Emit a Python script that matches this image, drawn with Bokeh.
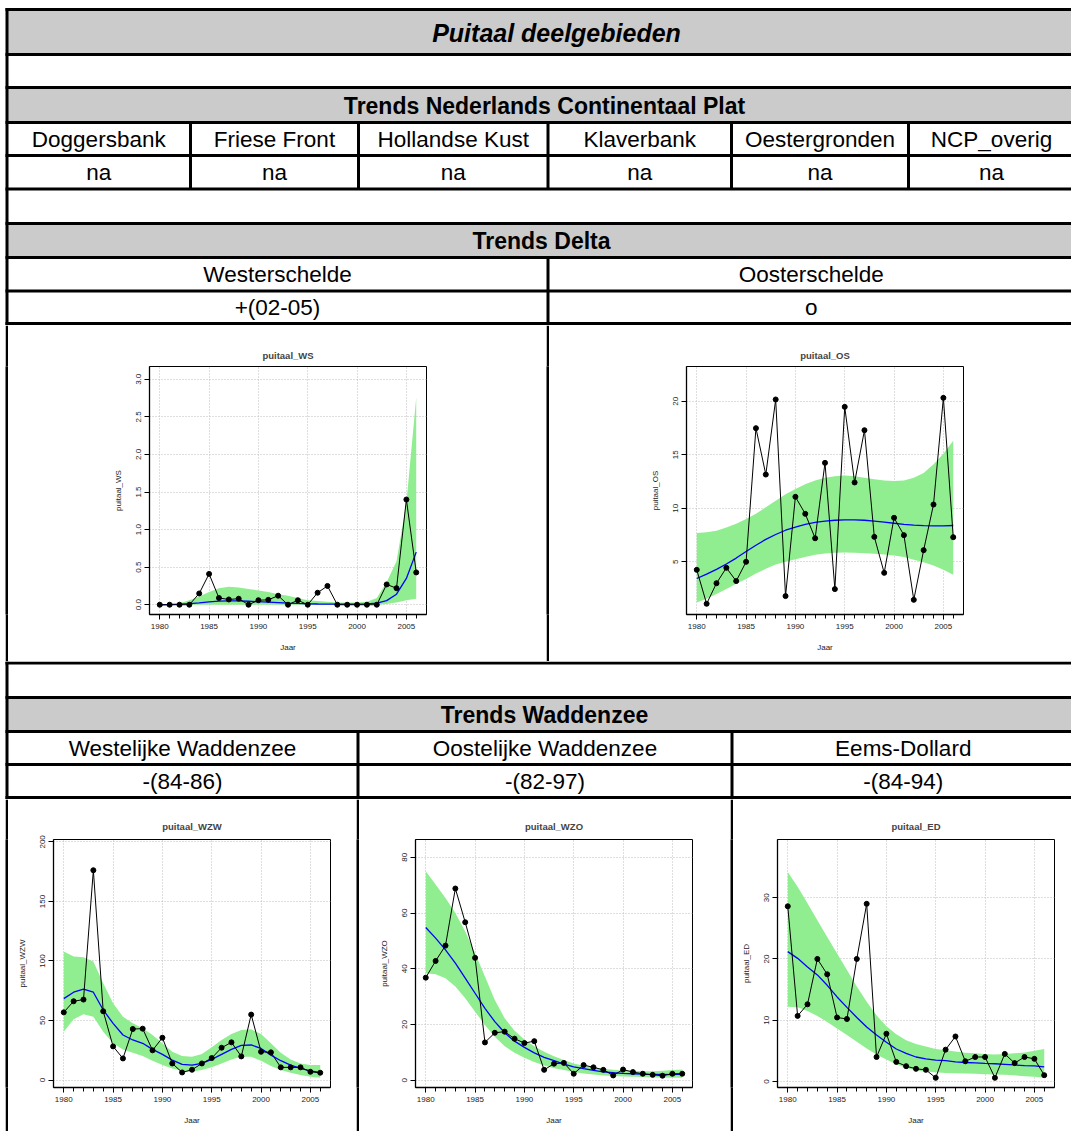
from bokeh.plotting import figure
from bokeh.layouts import column, row
from bokeh.models import Range1d, FixedTicker, PrintfTickFormatter, Spacer
from bokeh.core.properties import value
from bokeh.embed import file_html
from bokeh.resources import INLINE

# ---------------- data ----------------
years = list(range(1980, 2007))

title_text = "Puitaal deelgebieden"
ncp_header = "Trends Nederlands Continentaal Plat"
ncp_areas = ["Doggersbank", "Friese Front", "Hollandse Kust", "Klaverbank", "Oestergronden", "NCP_overig"]
ncp_trends = ["na", "na", "na", "na", "na", "na"]
delta_header = "Trends Delta"
delta_areas = ["Westerschelde", "Oosterschelde"]
delta_trends = ["+(02-05)", "o"]
wadden_header = "Trends Waddenzee"
wadden_areas = ["Westelijke Waddenzee", "Oostelijke Waddenzee", "Eems-Dollard"]
wadden_trends = ["-(84-86)", "-(82-97)", "-(84-94)"]

ws_obs = [0, 0, 0, 0, 0.15, 0.41, 0.09, 0.07, 0.08, 0, 0.06, 0.065, 0.12, 0, 0.06, 0,
          0.16, 0.25, 0, 0, 0, 0, 0, 0.27, 0.22, 1.40, 0.43]
ws_fit = [0.0, 0.003, 0.008, 0.015, 0.025, 0.037, 0.047, 0.052, 0.050, 0.046, 0.040, 0.034,
          0.028, 0.022, 0.017, 0.013, 0.010, 0.008, 0.007, 0.007, 0.008, 0.012, 0.022, 0.055,
          0.14, 0.35, 0.70]
ws_hi = [0.0, 0.005, 0.02, 0.06, 0.11, 0.17, 0.22, 0.24, 0.23, 0.21, 0.19, 0.17, 0.14, 0.12,
         0.09, 0.06, 0.05, 0.04, 0.03, 0.03, 0.03, 0.04, 0.09, 0.30, 0.58, 1.35, 2.76]
ws_lo = [0, 0, 0, 0, 0, 0, 0, 0, 0, 0, 0, 0, 0, 0, 0, 0, 0, 0, 0, 0, 0, 0, 0,
         0.01, 0.03, 0.06, 0.08]

os_obs = [4.25, 1.08, 3.0, 4.44, 3.2, 5.0, 17.48, 13.15, 20.16, 1.8, 11.07, 9.48, 7.2, 14.24,
          2.45, 19.47, 12.41, 17.29, 7.33, 3.97, 9.11, 7.49, 1.45, 6.09, 10.35, 20.31, 7.30]
os_fit = [3.44, 3.85, 4.3, 4.8, 5.35, 5.96, 6.55, 7.1, 7.55, 7.95, 8.24, 8.5, 8.68, 8.8, 8.88,
          8.92, 8.92, 8.88, 8.8, 8.7, 8.6, 8.5, 8.42, 8.38, 8.36, 8.36, 8.39]
os_hi = [7.7, 7.75, 7.9, 8.2, 8.55, 9.0, 9.5, 10.1, 10.7, 11.3, 11.8, 12.25, 12.6, 12.85, 13.0,
         13.05, 13.0, 12.85, 12.7, 12.6, 12.55, 12.6, 12.85, 13.3, 14.1, 15.1, 16.3]
os_lo = [1.2, 1.55, 2.0, 2.45, 2.95, 3.4, 3.9, 4.35, 4.75, 5.0, 5.25, 5.45, 5.65, 5.78, 5.85,
         5.88, 5.85, 5.8, 5.75, 5.68, 5.6, 5.45, 5.2, 4.95, 4.65, 4.25, 3.8]

wzw_obs = [56.9, 66.2, 67.6, 176.2, 57.8, 28.3, 18.2, 42.9, 43.2, 25.0, 35.6, 14.0, 6.45, 8.7,
           14.0, 18.5, 27.2, 31.7, 19.9, 55.0, 23.8, 23.3, 10.7, 10.7, 10.7, 7.0, 6.2]
wzw_fit = [68.4, 73.8, 76.3, 73.8, 58.9, 47.7, 37.9, 33.7, 30.9, 25.8, 21.6, 16.8, 13.2, 12.6,
           14.0, 17.4, 21.6, 25.8, 29.2, 29.5, 26.6, 21.0, 16.3, 12.6, 9.8, 7.85, 6.2]
wzw_hi = [108.0, 103.8, 103.2, 99.6, 81.3, 64.5, 53.3, 47.7, 43.5, 37.9, 30.9, 23.8, 20.2, 19.6,
          21.9, 27.5, 33.7, 38.7, 42.1, 42.6, 38.7, 30.9, 23.0, 17.4, 14.0, 12.6, 12.6]
wzw_lo = [40.7, 51.1, 55.3, 53.3, 40.7, 30.9, 25.8, 23.0, 20.2, 16.3, 12.6, 9.8, 7.85, 7.0,
          8.4, 10.7, 14.0, 17.4, 19.6, 19.6, 16.3, 11.8, 8.4, 6.2, 4.2, 2.8, 2.0]

wzo_obs = [36.8, 42.8, 48.3, 68.8, 56.7, 43.9, 13.55, 17.0, 17.4, 14.9, 13.3, 14.0, 3.7, 5.9,
           6.2, 2.3, 5.4, 4.6, 3.7, 1.7, 3.8, 2.9, 2.3, 1.9, 1.6, 2.3, 2.3]
wzo_fit = [54.8, 51.0, 46.8, 42.0, 36.6, 31.2, 25.8, 21.0, 17.0, 14.0, 11.75, 9.8, 8.2, 7.0,
           5.75, 4.8, 4.1, 3.5, 3.0, 2.65, 2.4, 2.3, 2.15, 2.05, 2.05, 2.0, 2.15]
wzo_hi = [75.0, 70.2, 65.4, 60.0, 53.4, 45.6, 37.2, 28.8, 22.2, 17.75, 14.6, 12.2, 10.2, 8.6,
          7.2, 6.0, 5.2, 4.6, 4.1, 3.7, 3.5, 3.4, 3.2, 3.2, 3.4, 3.6, 3.8]
wzo_lo = [38.4, 38.0, 36.6, 33.6, 29.4, 24.6, 19.8, 15.6, 12.2, 9.8, 8.0, 6.5, 5.3, 4.3, 3.6,
          2.9, 2.4, 2.0, 1.7, 1.45, 1.3, 1.2, 1.1, 0.96, 0.96, 0.9, 0.9]

ed_obs = [28.6, 10.7, 12.6, 20.0, 17.5, 10.45, 10.2, 20.0, 29.0, 4.0, 7.8, 3.2, 2.5, 2.07, 1.9,
          0.6, 5.2, 7.35, 3.3, 4.0, 4.0, 0.6, 4.5, 3.0, 4.0, 3.7, 1.03]
ed_fit = [21.2, 20.1, 18.7, 17.4, 15.7, 13.8, 12.1, 10.45, 8.9, 7.6, 6.4, 5.3, 4.6, 4.0, 3.7,
          3.5, 3.4, 3.2, 3.1, 3.05, 2.95, 2.9, 2.8, 2.7, 2.6, 2.55, 2.4]
ed_hi = [34.2, 31.8, 29.1, 26.3, 23.6, 20.9, 18.2, 15.5, 13.0, 10.8, 9.0, 7.7, 6.75, 6.1, 5.7,
         5.3, 5.1, 4.9, 4.7, 4.6, 4.5, 4.4, 4.5, 4.6, 4.75, 5.0, 5.3]
ed_lo = [12.2, 12.1, 11.5, 10.7, 9.7, 8.65, 7.6, 6.5, 5.4, 4.4, 3.6, 2.8, 2.2, 1.85, 1.6, 1.5,
         1.4, 1.36, 1.3, 1.25, 1.2, 1.14, 1.1, 1.0, 0.87, 0.76, 0.6]

ws_yticks = [0, 0.5, 1.0, 1.5, 2.0, 2.5, 3.0]
os_yticks = [5, 10, 15, 20]
wzw_yticks = [0, 50, 100, 150, 200]
wzo_yticks = [0, 20, 40, 60, 80]
ed_yticks = [0, 10, 20, 30]
x_major = [1980, 1985, 1990, 1995, 2000, 2005]

# ---------------- styling / layout ----------------
FONT = "Liberation Sans"
GRAY = "#cbcbcb"
LW = 3
XL, XR = 6.5, 1074          # table left / right border
W = 1071


def table_fig(y0, height):
    p = figure(width=W, height=height, x_range=Range1d(0, W), y_range=Range1d(y0 + height, y0),
               output_backend="svg", toolbar_location=None, min_border=0,
               x_axis_type=None, y_axis_type=None)
    p.outline_line_color = None
    p.background_fill_color = "white"
    p.border_fill_color = "white"
    return p


def add_text(p, xs, ys, texts, size, style="normal"):
    p.text(x=xs, y=ys, text=texts, text_align="center", text_baseline="middle",
           text_font=value(FONT), text_font_size=value(size), text_font_style=style,
           text_color="black")


# ---- section A: top rows ----
A = table_fig(0, 325)
hA = [9, 54, 87, 122, 155, 188.5, 223, 257, 290.5, 323]
A.quad(left=[XL] * 3, right=[XR] * 3, top=[9, 87, 223], bottom=[54, 122, 257],
       fill_color=GRAY, line_color=None)
A.multi_line(xs=[[XL - 1.5, XR]] * len(hA), ys=[[y, y] for y in hA], line_color="black", line_width=LW)
ncp_cols = [XL, 190, 358, 547.5, 731, 908, XR]
A.multi_line(xs=[[XL, XL]] + [[c, c] for c in ncp_cols[1:-1]] + [[547.5, 547.5]],
             ys=[[7.5, 325]] + [[122, 188.5]] * 5 + [[257, 325]],
             line_color="black", line_width=LW)
add_text(A, [556], [32], [title_text], "25px", "bold italic")
add_text(A, [544], [105], [ncp_header], "23px", "bold")
add_text(A, [(ncp_cols[i] + ncp_cols[i + 1]) / 2 for i in range(6)], [139] * 6, ncp_areas, "22.5px")
add_text(A, [(ncp_cols[i] + ncp_cols[i + 1]) / 2 for i in range(6)], [172] * 6, ncp_trends, "22.5px")
add_text(A, [541], [240.5], [delta_header], "23px", "bold")
dcols = [XL, 547.5, XR]
add_text(A, [(dcols[i] + dcols[i + 1]) / 2 for i in range(2)], [274] * 2, delta_areas, "22.5px")
add_text(A, [(dcols[i] + dcols[i + 1]) / 2 for i in range(2)], [307] * 2, delta_trends, "22.5px")

# ---- section C: between plot rows ----
C = table_fig(661, 138)
hC = [662.5, 697, 731, 764, 797]
C.quad(left=[XL], right=[XR], top=[697], bottom=[731], fill_color=GRAY, line_color=None)
C.multi_line(xs=[[XL - 1.5, XR]] * len(hC), ys=[[y, y] for y in hC], line_color="black", line_width=LW)
wcols = [XL, 357.5, 731.5, XR]
C.multi_line(xs=[[XL, XL], [357.5, 357.5], [731.5, 731.5]],
             ys=[[661, 799], [731, 799], [731, 799]], line_color="black", line_width=LW)
add_text(C, [544], [714], [wadden_header], "23px", "bold")
add_text(C, [(wcols[i] + wcols[i + 1]) / 2 for i in range(3)], [747.5] * 3, wadden_areas, "22.5px")
add_text(C, [(wcols[i] + wcols[i + 1]) / 2 for i in range(3)], [780.5] * 3, wadden_trends, "22.5px")


def vrule(h):
    p = figure(width=3, height=h, output_backend="svg", toolbar_location=None, min_border=0,
               x_axis_type=None, y_axis_type=None, x_range=Range1d(0, 1), y_range=Range1d(0, 1))
    p.background_fill_color = "black"
    p.border_fill_color = "black"
    p.outline_line_color = None
    return p


def trend_plot(name, obs, fit, lo, hi, yticks, yrange, fmt, w, h, left, right, top, bottom, standoff):
    p = figure(width=w, height=h, x_range=Range1d(1978.96, 2007.04), y_range=Range1d(*yrange),
               output_backend="svg", toolbar_location=None,
               min_border_left=left, min_border_right=right,
               min_border_top=top, min_border_bottom=bottom, title=name)
    p.title.align = "center"
    p.title.text_font = FONT
    p.title.text_font_size = "9.5px"
    p.title.text_font_style = "bold"
    p.title.standoff = standoff
    p.outline_line_color = "black"
    p.outline_line_width = 1
    p.background_fill_color = "white"
    p.border_fill_color = "white"

    xa = p.xaxis[0]
    xa.ticker = FixedTicker(ticks=x_major, minor_ticks=years)
    ya = p.yaxis[0]
    ya.ticker = FixedTicker(ticks=yticks)
    ya.formatter = PrintfTickFormatter(format=fmt)
    ya.major_label_orientation = "vertical"
    xa.axis_label = "Jaar"
    ya.axis_label = name
    for ax in (xa, ya):
        ax.major_tick_in = 0
        ax.major_tick_out = 5
        ax.minor_tick_in = 0
        ax.minor_tick_out = 4
        ax.axis_line_color = "black"
        ax.axis_line_width = 1.3
        ax.major_tick_line_color = "black"
        ax.minor_tick_line_color = "black"
        ax.major_label_text_font = FONT
        ax.major_label_text_font_size = "8px"
        ax.major_label_text_color = "#222222"
        ax.axis_label_text_font = FONT
        ax.axis_label_text_font_size = "8px"
        ax.axis_label_text_font_style = "normal"
        ax.axis_label_text_color = "#222222"
        ax.major_label_standoff = 3
        ax.axis_label_standoff = 11
    xa.major_label_standoff = 4
    p.xgrid.ticker = FixedTicker(ticks=x_major)
    p.ygrid.ticker = FixedTicker(ticks=yticks)
    for g in (p.xgrid[0], p.ygrid[0]):
        g.grid_line_color = "#bdbdbd"
        g.grid_line_dash = "1 2"
        g.grid_line_width = 1

    p.varea(x=years, y1=lo, y2=hi, fill_color="#90EE90", fill_alpha=1.0)
    p.line(x=years, y=fit, line_color="blue", line_width=1.3)
    p.line(x=years, y=obs, line_color="black", line_width=1)
    p.scatter(x=years, y=obs, size=5, fill_color="black", line_color="black", marker="circle")
    return p


ws = trend_plot("puitaal_WS", ws_obs, ws_fit, ws_lo, ws_hi, ws_yticks, (-0.13, 3.17), "%.1f",
                538, 336, 141, 120, 41, 47, 11)
os_ = trend_plot("puitaal_OS", os_obs, os_fit, os_lo, os_hi, os_yticks, (0.08, 23.24), "%d",
                 522, 336, 137, 108, 41, 47, 11)
wzw = trend_plot("puitaal_WZW", wzw_obs, wzw_fit, wzw_lo, wzw_hi, wzw_yticks, (-6.2, 202), "%d",
                 348, 332, 45, 26, 40, 44, 15)
wzo = trend_plot("puitaal_WZO", wzo_obs, wzo_fit, wzo_lo, wzo_hi, wzo_yticks, (-2.64, 86.4), "%d",
                 371, 332, 56, 38, 40, 44, 15)
ed = trend_plot("puitaal_ED", ed_obs, ed_fit, ed_lo, ed_hi, ed_yticks, (-0.98, 39.5), "%d",
                338, 332, 44, 17, 40, 44, 15)

B = row(Spacer(width=5, height=336), vrule(336), ws, vrule(336), os_, spacing=0)
D = row(Spacer(width=5, height=332), vrule(332), wzw, vrule(332), wzo, vrule(332), ed, spacing=0)

layout = column(A, B, C, D, spacing=0)

open("out.html", "w").write(file_html(layout, INLINE))
